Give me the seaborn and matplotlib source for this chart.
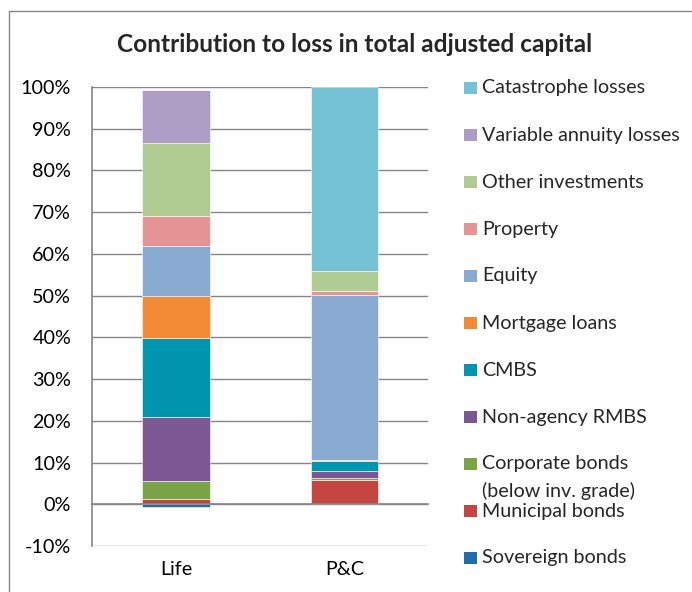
import matplotlib
matplotlib.use("Agg")
import matplotlib.pyplot as plt
import seaborn as sns
import numpy as np
import pandas as pd
from matplotlib.patches import Rectangle
from matplotlib.ticker import PercentFormatter

# data (percent of loss)
groups = ["Life", "P&C"]
categories = [
    "Sovereign bonds", "Municipal bonds", "Corporate bonds\n(below inv. grade)",
    "Non-agency RMBS", "CMBS", "Mortgage loans", "Equity", "Property",
    "Other investments", "Variable annuity losses", "Catastrophe losses",
]
life_vals = [-0.6, 1.2, 4.4, 15.4, 18.8, 10.2, 11.8, 7.4, 17.4, 12.6, 0.0]
pc_vals = [0.0, 5.9, 0.4, 1.7, 2.3, 0.3, 39.6, 1.0, 4.8, 0.0, 44.0]
colors = [
    "#1F6EAB", "#C44542", "#7BA446", "#7B5793", "#0096AF", "#F38B36",
    "#89ABD1", "#E59495", "#B1CC93", "#AD9DC5", "#75C2D5",
]
yticks = np.arange(-10, 101, 10)

df = pd.DataFrame({"Life": life_vals, "P&C": pc_vals}, index=categories)

sns.set_theme(style="white")
plt.rcParams["font.family"] = ["Lato", "DejaVu Sans"]
plt.rcParams["axes.unicode_minus"] = False

fs = 14.2
fig = plt.figure(figsize=(6.92, 5.92), dpi=100)
ax = fig.add_axes([0.133, 0.0777, 0.486, 0.7753])

x = np.arange(len(groups))
pos_bottom = np.zeros(len(groups))
neg_bottom = np.zeros(len(groups))
for cat, col in zip(categories, colors):
    vals = df.loc[cat, groups].to_numpy(dtype=float)
    bottom = np.where(vals >= 0, pos_bottom, neg_bottom)
    ax.bar(x, vals, width=0.4, bottom=bottom, color=col,
           edgecolor="white", linewidth=0.4, zorder=3)
    pos_bottom += np.clip(vals, 0, None)
    neg_bottom += np.clip(vals, None, 0)

grid_col = "#868686"
ax.set_xlim(-0.5, 1.5)
ax.set_ylim(-10, 100)
ax.set_yticks(yticks)
ax.yaxis.set_major_formatter(PercentFormatter(decimals=0))
ax.yaxis.grid(True, color=grid_col, linewidth=1.0, zorder=0)
for s in ["top", "right"]:
    ax.spines[s].set_visible(False)
ax.spines["left"].set_color(grid_col)
ax.spines["left"].set_linewidth(1.2)
ax.spines["bottom"].set_position(("data", 0))
ax.spines["bottom"].set_color(grid_col)
ax.spines["bottom"].set_linewidth(1.2)
ax.spines["bottom"].set_zorder(4)

ax.set_xticks(x)
ax.set_xticklabels(groups)
ax.set_xticks([-0.5, 0.5, 1.5], minor=True)
ax.tick_params(axis="x", which="major", length=0, pad=41, labelsize=fs, colors="black")
ax.tick_params(axis="x", which="minor", length=5, width=1.2, color=grid_col, direction="out")
ax.tick_params(axis="y", length=5, width=1.2, color=grid_col, direction="out",
               labelsize=fs, labelcolor="black", pad=10)

fig.text(0.513, 0.924, "Contribution to loss in total adjusted capital",
         ha="center", va="center", fontsize=17.6, fontweight="bold")

# legend, drawn by hand the way the spreadsheet lays it out (top entry first)
leg_y = 1 - 88 / 592
step = 47 / 592
for i, (cat, col) in enumerate(zip(categories[::-1], colors[::-1])):
    yc = leg_y - i * step
    fig.patches.append(Rectangle((464 / 692, yc - 6 / 592), 13 / 692, 12 / 592,
                                 transform=fig.transFigure, facecolor=col,
                                 edgecolor="none"))
    lines = cat.split("\n")
    for j, line in enumerate(lines):
        fig.text(482 / 692, yc - j * 27 / 592, line, ha="left", va="center",
                 fontsize=fs)

# chart frame
fig.patches.append(Rectangle((9 / 692, -0.2), 1.2, 1.2 - 11 / 592,
                             transform=fig.transFigure, facecolor="none",
                             edgecolor=grid_col, linewidth=1.0))

fig.savefig("out.png", dpi=100)
